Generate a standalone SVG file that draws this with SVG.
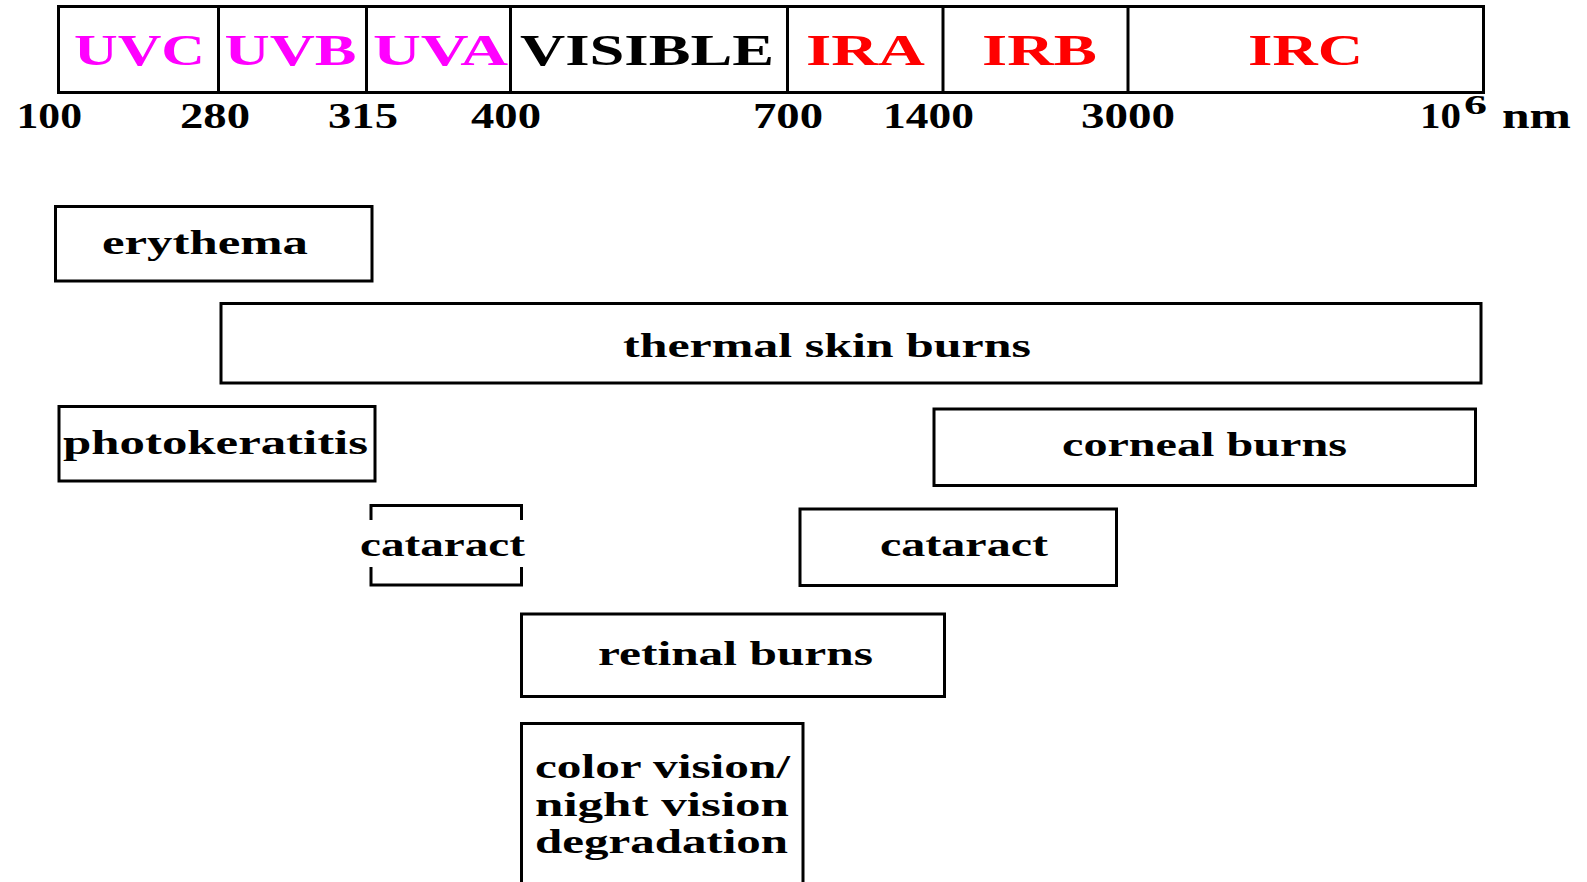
<svg xmlns="http://www.w3.org/2000/svg" width="1587" height="882" viewBox="0 0 1587 882">
<style>
  text { font-family: "Liberation Serif", "Times New Roman", serif; font-weight: bold; }
  .band { font-size: 44px; }
  .uv { fill: #FF00FF; }
  .vis { fill: #000000; }
  .ir { fill: #FF0000; }
  .scale { font-size: 36px; fill: #000; }
  .lbl { font-size: 34px; fill: #000; }
  .box { fill: #FFFFFF; stroke: #000; stroke-width: 3; }
  .line { fill: none; stroke: #000; stroke-width: 3; }
</style>
<rect x="0" y="0" width="1587" height="882" fill="#FFFFFF"/>

<g id="spectrum">
  <rect class="box" x="58.5" y="6.5" width="1425" height="86"/>
  <g id="dividers">
    <line class="line" x1="218.5" y1="6.5" x2="218.5" y2="92.5"/>
    <line class="line" x1="366.5" y1="6.5" x2="366.5" y2="92.5"/>
    <line class="line" x1="510.5" y1="6.5" x2="510.5" y2="92.5"/>
    <line class="line" x1="787.5" y1="6.5" x2="787.5" y2="92.5"/>
    <line class="line" x1="943" y1="6.5" x2="943" y2="92.5"/>
    <line class="line" x1="1128" y1="6.5" x2="1128" y2="92.5"/>
  </g>
  <text class="band uv" x="74" y="65" textLength="131" lengthAdjust="spacingAndGlyphs">UVC</text>
  <text class="band uv" x="224.5" y="65" textLength="132" lengthAdjust="spacingAndGlyphs">UVB</text>
  <text class="band uv" x="373" y="65" textLength="135" lengthAdjust="spacingAndGlyphs">UVA</text>
  <text class="band vis" x="520" y="65" textLength="254" lengthAdjust="spacingAndGlyphs">VISIBLE</text>
  <text class="band ir" x="806" y="65" textLength="119" lengthAdjust="spacingAndGlyphs">IRA</text>
  <text class="band ir" x="982" y="65" textLength="115" lengthAdjust="spacingAndGlyphs">IRB</text>
  <text class="band ir" x="1248" y="65" textLength="115" lengthAdjust="spacingAndGlyphs">IRC</text>
</g>

<g id="scale">
  <text class="scale" x="16.5" y="128" textLength="65.5" lengthAdjust="spacingAndGlyphs">100</text>
  <text class="scale" x="180" y="128" textLength="70" lengthAdjust="spacingAndGlyphs">280</text>
  <text class="scale" x="328" y="128" textLength="70" lengthAdjust="spacingAndGlyphs">315</text>
  <text class="scale" x="471" y="128" textLength="70" lengthAdjust="spacingAndGlyphs">400</text>
  <text class="scale" x="753" y="128" textLength="70" lengthAdjust="spacingAndGlyphs">700</text>
  <text class="scale" x="883" y="128" textLength="91" lengthAdjust="spacingAndGlyphs">1400</text>
  <text class="scale" x="1081" y="128" textLength="94" lengthAdjust="spacingAndGlyphs">3000</text>
  <text class="scale" x="1420" y="128" textLength="41" lengthAdjust="spacingAndGlyphs">10</text>
  <text class="scale" x="1464" y="114" style="font-size:27px" textLength="23" lengthAdjust="spacingAndGlyphs">6</text>
  <text class="scale" x="1502" y="128" textLength="69" lengthAdjust="spacingAndGlyphs">nm</text>
</g>

<g id="erythema">
  <rect class="box" x="55.5" y="206.5" width="316.5" height="74.5"/>
  <text class="lbl" x="102" y="254" textLength="206" lengthAdjust="spacingAndGlyphs">erythema</text>
</g>

<g id="thermal-skin-burns">
  <rect class="box" x="221" y="303.5" width="1260" height="79.5"/>
  <text class="lbl" x="623" y="357" textLength="408" lengthAdjust="spacingAndGlyphs">thermal skin burns</text>
</g>

<g id="photokeratitis">
  <rect class="box" x="59" y="406.5" width="316" height="74.5"/>
  <text class="lbl" x="63" y="454" textLength="305" lengthAdjust="spacingAndGlyphs">photokeratitis</text>
</g>

<g id="corneal-burns">
  <rect class="box" x="934" y="409" width="541.5" height="76.5"/>
  <text class="lbl" x="1062" y="456" textLength="285" lengthAdjust="spacingAndGlyphs">corneal burns</text>
</g>

<g id="cataract-uv">
  <path class="line" d="M371,520 V505.5 H521.5 V520 M371,567 V585 H521.5 V567"/>
  <text class="lbl" x="360" y="556" textLength="165" lengthAdjust="spacingAndGlyphs">cataract</text>
</g>

<g id="cataract-ir">
  <rect class="box" x="800" y="509" width="316.5" height="76.5"/>
  <text class="lbl" x="880" y="556" textLength="168" lengthAdjust="spacingAndGlyphs">cataract</text>
</g>

<g id="retinal-burns">
  <rect class="box" x="521.5" y="614" width="423" height="82.5"/>
  <text class="lbl" x="598" y="665" textLength="275" lengthAdjust="spacingAndGlyphs">retinal burns</text>
</g>

<g id="color-vision">
  <path class="line" d="M521.5,884 V723.5 H803 V884"/>
  <text class="lbl" x="535" y="778" textLength="255" lengthAdjust="spacingAndGlyphs">color vision/</text>
  <text class="lbl" x="535" y="816" textLength="254" lengthAdjust="spacingAndGlyphs">night vision</text>
  <text class="lbl" x="535" y="853" textLength="253" lengthAdjust="spacingAndGlyphs">degradation</text>
</g>
</svg>
